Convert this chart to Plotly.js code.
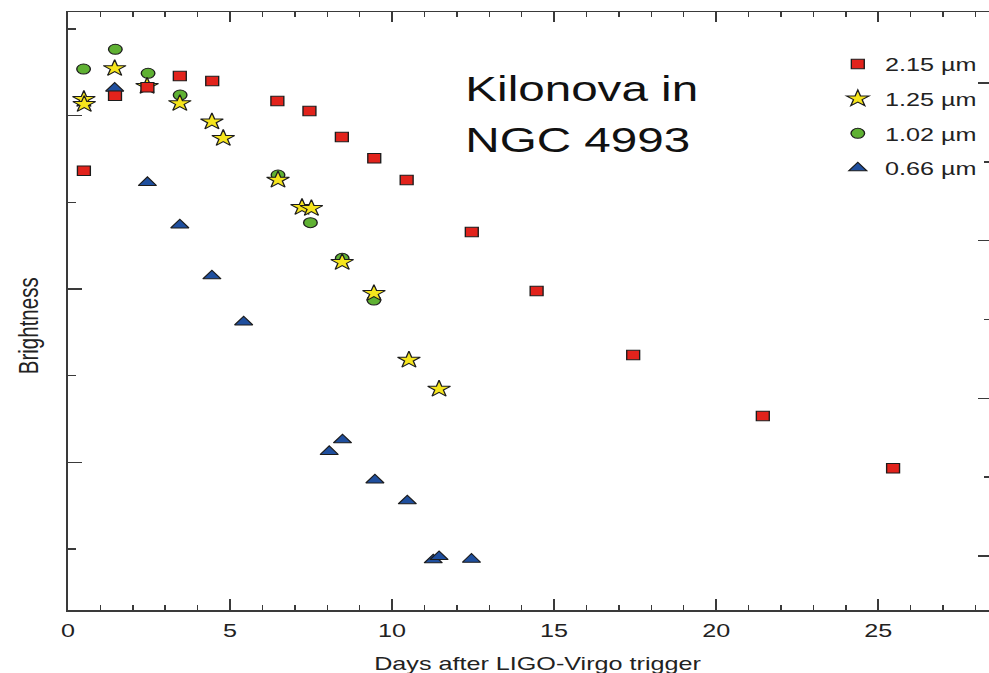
<!DOCTYPE html>
<html>
<head>
<meta charset="utf-8">
<script src="https://cdn.plot.ly/plotly-3.0.1.min.js"></script>
<style>
  html, body { margin: 0; padding: 0; background: #fff; overflow: hidden; }
  /* the figure is laid out narrow and widened horizontally */
  #chart { width: 727px; height: 673px; transform: scaleX(1.3604); transform-origin: 0 0; }
</style>
</head>
<body>
<div id="chart"></div>
<script>
// Light curves of the kilonova, brightness in arbitrary units
const bandLabels = ['2.15 µm', '1.25 µm', '1.02 µm', '0.66 µm'];

const kDays   = [0.49, 1.45, 2.45, 3.45, 4.45, 6.46, 7.45, 8.45, 9.45, 10.45, 12.46, 14.46, 17.44, 21.44, 25.46];
const kBright = [5.365, 6.230, 6.327, 6.457, 6.400, 6.169, 6.054, 5.754, 5.508, 5.258, 4.658, 3.977, 3.238, 2.535, 1.931];

const jDays   = [0.49, 0.50, 1.44, 2.44, 3.45, 4.44, 4.79, 6.48, 7.22, 7.51, 8.46, 9.44, 10.52, 11.45];
const jBright = [6.189, 6.131, 6.546, 6.340, 6.142, 5.930, 5.739, 5.258, 4.943, 4.931, 4.308, 3.950, 3.181, 2.846];

const yDays   = [0.48, 1.46, 2.47, 3.46, 6.48, 7.48, 8.46, 9.44];
const yBright = [6.538, 6.766, 6.489, 6.238, 5.315, 4.765, 4.354, 3.873];

const rDays   = [1.44, 2.45, 3.45, 4.44, 5.42, 8.06, 8.47, 9.47, 10.47, 11.27, 11.45, 12.45];
const rBright = [6.316, 5.227, 4.738, 4.150, 3.619, 2.123, 2.258, 1.796, 1.554, 0.873, 0.911, 0.881];

const edge = '#1c1c1c';
const axisColor = '#3a3a3a';

function band(name, x, y, symbol, size, fill, rank) {
  return {
    type: 'scatter', mode: 'markers', name: name, x: x, y: y,
    legendgroup: name, legendrank: rank,
    marker: { symbol: symbol, size: size, color: fill, line: { color: edge, width: 1 } },
    hoverinfo: 'skip'
  };
}

// drawing order: circles under triangles under stars under squares
const data = [
  band(bandLabels[2], yDays, yBright, 'circle', 10, '#5fb133', 3),
  band(bandLabels[3], rDays, rBright, 'triangle-up', 11.5, '#1f4f9e', 4),
  band(bandLabels[1], jDays, jBright, 'star', 12.5, '#f6e51d', 2),
  band(bandLabels[0], kDays, kBright, 'square', 9.5, '#e2231c', 1),
  // empty series that brings up the top and right frame axes
  { type: 'scatter', mode: 'markers', x: [], y: [], xaxis: 'x2', yaxis: 'y2',
    showlegend: false, hoverinfo: 'skip' }
];

const tickFont = { family: 'Liberation Sans, Arial, sans-serif', size: 18.5, color: '#222' };

const layout = {
  width: 727, height: 673,
  margin: { l: 50, r: 0, t: 12, b: 63 },
  paper_bgcolor: '#fff', plot_bgcolor: '#fff',
  font: { family: 'Liberation Sans, Arial, sans-serif', color: '#222' },
  showlegend: true,
  legend: {
    x: 0.828, y: 0.944, xanchor: 'left', yanchor: 'top',
    font: { family: 'Liberation Sans, Arial, sans-serif', size: 18.5, color: '#222' },
    traceorder: 'grouped', tracegroupgap: 7.6,
    bgcolor: 'rgba(0,0,0,0)', borderwidth: 0
  },
  xaxis: {
    range: [0, 28.42], showgrid: false, zeroline: false,
    showline: true, linecolor: axisColor, linewidth: 1.5,
    ticks: 'inside', ticklen: 11, tickwidth: 1.1, tickcolor: axisColor,
    tickmode: 'linear', tick0: 0, dtick: 5,
    minor: { ticks: 'inside', tick0: 0, dtick: 1, ticklen: 5, tickwidth: 1.1, tickcolor: axisColor },
    tickfont: tickFont, ticklabelstandoff: 3
  },
  xaxis2: {
    overlaying: 'x', side: 'top', anchor: 'y2',
    range: [0, 28.42], showgrid: false, zeroline: false,
    showline: true, linecolor: axisColor, linewidth: 1.5,
    ticks: 'inside', ticklen: 10, tickwidth: 1.1, tickcolor: axisColor,
    tickmode: 'linear', tick0: 0, dtick: 5,
    minor: { ticks: 'inside', tick0: 0, dtick: 1, ticklen: 5, tickwidth: 1.1, tickcolor: axisColor },
    showticklabels: false
  },
  yaxis: {
    range: [0.296, 7.196], showgrid: false, zeroline: false,
    showline: true, linecolor: axisColor, linewidth: 1.2,
    ticks: 'inside', ticklen: 10.5, tickwidth: 1.5, tickcolor: axisColor,
    tickmode: 'linear', tick0: 0, dtick: 2,
    minor: { ticks: 'inside', tick0: 0, dtick: 1, ticklen: 5.7, tickwidth: 1.5, tickcolor: axisColor },
    showticklabels: false
  },
  yaxis2: {
    overlaying: 'y', side: 'right', anchor: 'x2',
    range: [-0.685, 6.901], showgrid: false, zeroline: false, showline: false,
    ticks: 'inside', ticklen: 7.8, tickwidth: 1.5, tickcolor: axisColor,
    tickmode: 'linear', tick0: 0, dtick: 2,
    minor: { ticks: 'inside', tick0: 0, dtick: 1, ticklen: 3.5, tickwidth: 1.5, tickcolor: axisColor },
    showticklabels: false
  },
  annotations: [
    { text: 'Kilonova in', xref: 'paper', yref: 'paper', x: 0.428, y: 0.872,
      xanchor: 'left', yanchor: 'middle', showarrow: false,
      font: { family: 'Liberation Sans, Arial, sans-serif', size: 35, color: '#111' } },
    { text: 'NGC 4993', xref: 'paper', yref: 'paper', x: 0.428, y: 0.786,
      xanchor: 'left', yanchor: 'middle', showarrow: false,
      font: { family: 'Liberation Sans, Arial, sans-serif', size: 35, color: '#111' } },
    { text: 'Days after LIGO-Virgo trigger', xref: 'paper', yref: 'paper', x: 0.509, y: -0.089,
      xanchor: 'center', yanchor: 'middle', showarrow: false,
      font: { family: 'Liberation Sans, Arial, sans-serif', size: 18.5, color: '#222' } },
    { text: 'Brightness', xref: 'paper', yref: 'paper', x: -0.0437, y: 0.4753, textangle: -90,
      xanchor: 'center', yanchor: 'middle', showarrow: false,
      font: { family: 'Liberation Sans, Arial, sans-serif', size: 20.5, color: '#222' } }
  ]
};

Plotly.newPlot('chart', data, layout, { displayModeBar: false, staticPlot: true });
</script>
</body>
</html>
